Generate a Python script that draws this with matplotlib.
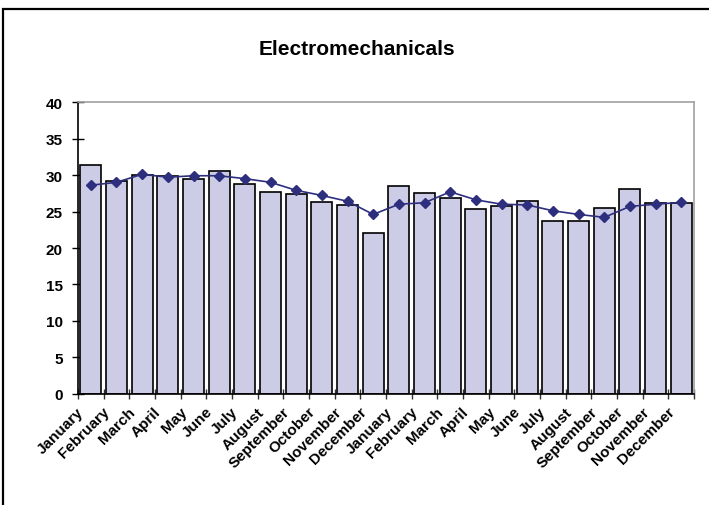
import matplotlib
matplotlib.use("Agg")
import matplotlib.pyplot as plt
from matplotlib.patches import Rectangle
from matplotlib.transforms import ScaledTranslation
import numpy as np

plt.rcParams['font.family'] = ['Liberation Sans', 'DejaVu Sans']

months = ["January", "February", "March", "April", "May", "June", "July",
          "August", "September", "October", "November", "December"]
categories = months + months

monthly_values = [31.4, 29.2, 30.0, 29.8, 29.4, 30.5, 28.8, 27.7, 27.35, 26.3, 25.9, 22.0,
                  28.45, 27.5, 26.9, 25.3, 25.7, 26.4, 23.65, 23.65, 25.5, 28.1, 26.2, 26.2]
trend_values = [28.6, 29.0, 30.1, 29.7, 29.9, 29.9, 29.5, 29.0, 27.9, 27.2, 26.4, 24.6,
                26.0, 26.2, 27.7, 26.6, 26.0, 25.9, 25.1, 24.6, 24.2, 25.7, 26.0, 26.25]
y_ticks = [0, 5, 10, 15, 20, 25, 30, 35, 40]

fig = plt.figure(figsize=(7.09, 5.06), dpi=100)
ax = fig.add_axes([0.110, 0.2194, 0.869, 0.577])

x = np.arange(len(categories))
ax.bar(x, monthly_values, width=0.82, color="#CCCCE6", edgecolor="black",
       linewidth=1.2, zorder=2)
ax.plot(x, trend_values, color="#2E2E7E", linewidth=1.2, marker="D",
        markersize=5.5, markerfacecolor="#2E2E7E", markeredgecolor="#2E2E7E", zorder=3)

ax.set_xlim(-0.5, len(categories) - 0.5)
ax.set_ylim(0, 40)
ax.set_yticks(y_ticks)
ax.set_yticklabels([str(t) for t in y_ticks], fontsize=11, fontweight="bold")
ax.tick_params(axis="y", length=8.6, width=1, direction="inout", pad=6.5)

ax.set_xticks(x)
ax.set_xticklabels(categories, rotation=45, ha="right", va="center",
                   rotation_mode="anchor", fontsize=11, fontweight="bold")
ax.tick_params(axis="x", which="major", length=0, pad=11)
ax.set_xticks(np.arange(-0.5, len(categories), 1.0), minor=True)
ax.tick_params(axis="x", which="minor", length=7.2, width=1, direction="inout",
               color="#333333")
shift = ScaledTranslation(-9 / 100, 0, fig.dpi_scale_trans)
for lbl in ax.get_xticklabels():
    lbl.set_transform(lbl.get_transform() + shift)

for side in ("top", "right"):
    ax.spines[side].set_color("#A0A0A0")
    ax.spines[side].set_linewidth(1.2)
for side in ("left", "bottom"):
    ax.spines[side].set_color("black")
    ax.spines[side].set_linewidth(1.2)

fig.text(0.504, 0.903, "Electromechanicals", ha="center", va="center",
         fontsize=15, fontweight="bold")

# outer chart frame
fig.patches.append(Rectangle((3 / 709, -0.2), 1.2, 1.2 - 10 / 506,
                             transform=fig.transFigure, fill=False,
                             edgecolor="black", linewidth=1.6))

fig.savefig("out.png", dpi=100)
